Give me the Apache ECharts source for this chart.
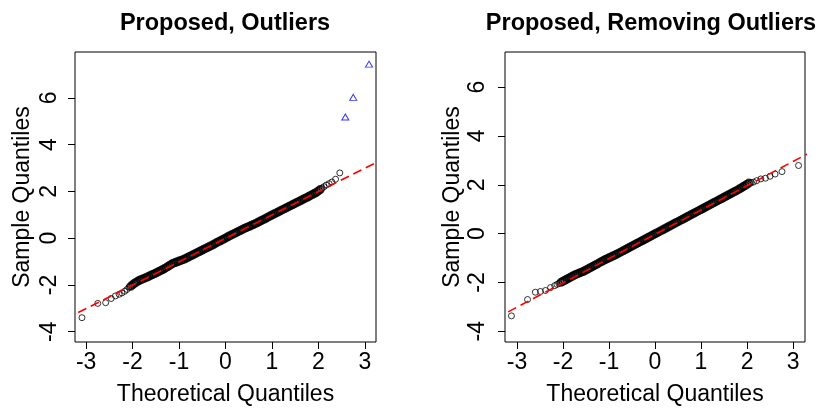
<!DOCTYPE html>
<html>
<head>
<meta charset="utf-8">
<script src="https://cdn.jsdelivr.net/npm/echarts@6/dist/echarts.min.js"></script>
<style>
    html, body { margin: 0; padding: 0; background: #fff; }
    #chart { width: 827px; height: 411px; }
</style>
</head>
<body>
<div id="chart"></div>
<script>
// tick labels
let xTicks = [-3, -2, -1, 0, 1, 2, 3];
let yTicks = [-4, -2, 0, 2, 4, 6];

// theoretical quantiles of the dense middle part (shared by both panels)
let midTheo = [-2.04,-2.00,-1.96,-1.92,-1.88,-1.84,-1.80,-1.76,-1.72,-1.68,
    -1.64,-1.60,-1.56,-1.52,-1.48,-1.44,-1.40,-1.36,-1.32,-1.28,
    -1.24,-1.20,-1.16,-1.12,-1.08,-1.04,-1.00,-0.96,-0.92,-0.88,
    -0.84,-0.80,-0.76,-0.72,-0.68,-0.64,-0.60,-0.56,-0.52,-0.48,
    -0.44,-0.40,-0.36,-0.32,-0.28,-0.24,-0.20,-0.16,-0.12,-0.08,
    -0.04,0.00,0.04,0.08,0.12,0.16,0.20,0.24,0.28,0.32,
    0.36,0.40,0.44,0.48,0.52,0.56,0.60,0.64,0.68,0.72,
    0.76,0.80,0.84,0.88,0.92,0.96,1.00,1.04,1.08,1.12,
    1.16,1.20,1.24,1.28,1.32,1.36,1.40,1.44,1.48,1.52,
    1.56,1.60,1.64,1.68,1.72,1.76,1.80,1.84,1.88,1.92,
    1.96,2.00,2.04];

// left panel: "Proposed, Outliers"
let leftMidSample = [-2.06,-1.99,-1.93,-1.88,-1.83,-1.79,-1.76,-1.73,-1.69,-1.66,
    -1.62,-1.58,-1.55,-1.51,-1.47,-1.43,-1.39,-1.35,-1.31,-1.26,
    -1.21,-1.16,-1.11,-1.07,-1.04,-1.01,-0.98,-0.95,-0.92,-0.89,
    -0.85,-0.81,-0.77,-0.73,-0.69,-0.65,-0.61,-0.57,-0.53,-0.49,
    -0.45,-0.41,-0.37,-0.33,-0.29,-0.25,-0.20,-0.16,-0.12,-0.08,
    -0.04,0.00,0.05,0.09,0.13,0.17,0.21,0.25,0.29,0.33,
    0.37,0.41,0.44,0.48,0.51,0.55,0.58,0.62,0.66,0.70,
    0.74,0.78,0.82,0.86,0.91,0.95,0.99,1.03,1.07,1.11,
    1.15,1.19,1.23,1.27,1.31,1.35,1.39,1.43,1.47,1.51,
    1.55,1.59,1.63,1.67,1.71,1.75,1.79,1.84,1.88,1.92,
    1.96,2.02,2.08];
let leftLowTheo = [-3.09, -2.75, -2.58, -2.46, -2.37, -2.29, -2.23, -2.17, -2.12, -2.08];
let leftLowSample = [-3.40, -2.79, -2.76, -2.58, -2.47, -2.40, -2.34, -2.27, -2.19, -2.10];
let leftHighTheo = [2.08, 2.12, 2.17, 2.23, 2.29, 2.37, 2.46];
let leftHighSample = [2.15, 2.20, 2.27, 2.33, 2.40, 2.52, 2.79];
let outlierTheo = [2.58, 2.75, 3.09];
let outlierSample = [5.18, 6.02, 7.44];
let leftQQLine = [-0.01, 1.00]; // intercept, slope

// right panel: "Proposed, Removing Outliers"
let rightMidSample = [-1.99,-1.95,-1.91,-1.87,-1.83,-1.79,-1.75,-1.71,-1.67,-1.64,
    -1.61,-1.58,-1.55,-1.51,-1.47,-1.43,-1.39,-1.35,-1.31,-1.27,
    -1.23,-1.18,-1.14,-1.10,-1.06,-1.03,-0.99,-0.96,-0.92,-0.89,
    -0.85,-0.81,-0.77,-0.73,-0.69,-0.65,-0.61,-0.57,-0.53,-0.49,
    -0.45,-0.41,-0.37,-0.33,-0.29,-0.25,-0.21,-0.17,-0.13,-0.09,
    -0.05,-0.01,0.03,0.07,0.11,0.15,0.19,0.23,0.27,0.31,
    0.35,0.39,0.43,0.47,0.51,0.55,0.59,0.63,0.67,0.71,
    0.75,0.79,0.83,0.87,0.91,0.95,0.99,1.03,1.07,1.11,
    1.15,1.19,1.23,1.27,1.31,1.35,1.39,1.43,1.47,1.51,
    1.55,1.59,1.63,1.67,1.71,1.75,1.79,1.84,1.88,1.93,
    1.97,2.02,2.07];
let rightLowTheo = [-3.12, -2.77, -2.60, -2.49, -2.38, -2.27, -2.18, -2.13, -2.09];
let rightLowSample = [-3.37, -2.70, -2.40, -2.37, -2.33, -2.21, -2.13, -2.08, -2.04];
let rightHighTheo = [2.09, 2.14, 2.21, 2.30, 2.40, 2.50, 2.61, 2.76, 3.12];
let rightHighSample = [2.09, 2.11, 2.17, 2.24, 2.27, 2.35, 2.44, 2.54, 2.79];
let rightQQLine = [-0.03, 0.995];

let fontFamily = 'Liberation Sans, Arial, Helvetica, sans-serif';

function zipPoints(xs, ys) {
    let out = [];
    for (let i = 0; i < xs.length; i++) {
        out.push([xs[i], ys[i]]);
    }
    return out;
}

function makeXAxis(gridIndex, lim) {
    return {
        gridIndex: gridIndex, type: 'value', min: lim[0], max: lim[1],
        axisLine: {show: false, onZero: false},
        splitLine: {show: false},
        axisTick: {show: true, customValues: xTicks, length: 7, lineStyle: {color: '#000', width: 1}},
        axisLabel: {customValues: xTicks, margin: 9, fontSize: 23, color: '#000', fontFamily: fontFamily},
        name: 'Theoretical Quantiles', nameLocation: 'middle', nameGap: 41,
        nameTextStyle: {fontSize: 23, color: '#000', fontFamily: fontFamily}
    };
}

function makeYAxis(gridIndex, lim, labelMargin) {
    return {
        gridIndex: gridIndex, type: 'value', min: lim[0], max: lim[1],
        axisLine: {show: false, onZero: false},
        splitLine: {show: false},
        axisTick: {show: true, customValues: yTicks, length: 7, lineStyle: {color: '#000', width: 1}},
        axisLabel: {customValues: yTicks, rotate: 90, margin: labelMargin, fontSize: 23, color: '#000', fontFamily: fontFamily},
        name: 'Sample Quantiles', nameLocation: 'middle', nameGap: 41,
        nameTextStyle: {fontSize: 23, color: '#000', fontFamily: fontFamily}
    };
}

function circleSeries(idx, data, size, border) {
    return {
        type: 'scatter', xAxisIndex: idx, yAxisIndex: idx, data: data,
        symbol: 'circle', symbolSize: size, silent: true,
        itemStyle: {color: 'rgba(0,0,0,0)', borderColor: '#000', borderWidth: border}
    };
}

function lineSeries(idx, params, lim) {
    let data = [
        [lim[0] - 0.2, params[0] + params[1] * (lim[0] - 0.2)],
        [lim[1] + 0.2, params[0] + params[1] * (lim[1] + 0.2)]
    ];
    return {
        type: 'line', xAxisIndex: idx, yAxisIndex: idx, data: data,
        symbol: 'none', silent: true, z: 5, clip: true,
        lineStyle: {color: '#ff0000', width: 1.6, type: [9, 5]}
    };
}

let leftX = [-3.24, 3.24], leftY = [-4.44, 7.96];
let rightX = [-3.26, 3.26], rightY = [-4.44, 7.44];

let myChart = echarts.init(document.getElementById('chart'), null, {renderer: 'canvas'});
let option = {
    backgroundColor: '#fff',
    animation: false,
    grid: [
        {left: 75, top: 52, width: 301, height: 300, show: true, borderColor: '#000', borderWidth: 1, backgroundColor: 'transparent'},
        {left: 505, top: 52, width: 300, height: 300, show: true, borderColor: '#000', borderWidth: 1, backgroundColor: 'transparent'}
    ],
    xAxis: [makeXAxis(0, leftX), makeXAxis(1, rightX)],
    yAxis: [makeYAxis(0, leftY, 13.5), makeYAxis(1, rightY, 15.5)],
    graphic: [
        {type: 'text', x: 225, y: 24, style: {text: 'Proposed, Outliers', font: 'bold 23.5px ' + fontFamily, fill: '#000', textAlign: 'center', textVerticalAlign: 'middle'}},
        {type: 'text', x: 651, y: 24, style: {text: 'Proposed, Removing Outliers', font: 'bold 23.5px ' + fontFamily, fill: '#000', textAlign: 'center', textVerticalAlign: 'middle'}}
    ],
    series: [
        circleSeries(0, zipPoints(midTheo, leftMidSample), 7, 2),
        circleSeries(0, zipPoints(leftLowTheo, leftLowSample), 6, 1),
        circleSeries(0, zipPoints(leftHighTheo, leftHighSample), 6, 1),
        {
            type: 'scatter', xAxisIndex: 0, yAxisIndex: 0,
            data: zipPoints(outlierTheo, outlierSample),
            symbol: 'triangle', symbolSize: [7, 6], silent: true,
            itemStyle: {color: 'rgba(0,0,0,0)', borderColor: '#0000ff', borderWidth: 1}
        },
        lineSeries(0, leftQQLine, leftX),
        circleSeries(1, zipPoints(midTheo, rightMidSample), 7, 2),
        circleSeries(1, zipPoints(rightLowTheo, rightLowSample), 6, 1),
        circleSeries(1, zipPoints(rightHighTheo, rightHighSample), 6, 1),
        lineSeries(1, rightQQLine, rightX)
    ]
};
myChart.setOption(option);
</script>
</body>
</html>
